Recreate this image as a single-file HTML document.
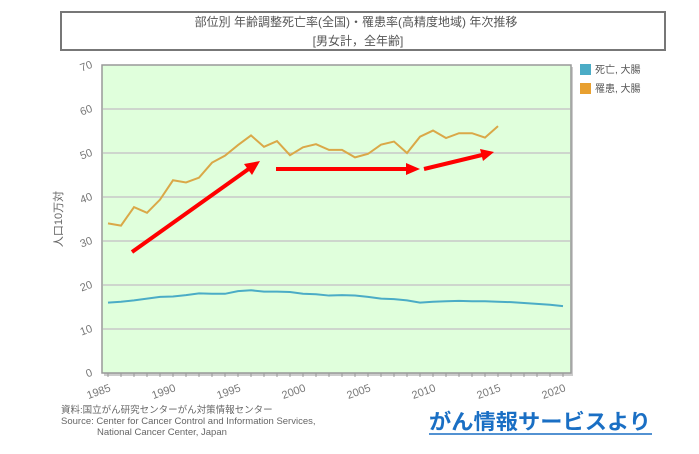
<!DOCTYPE html>
<html><head><meta charset="utf-8"><style>
body{margin:0;background:#fff;width:699px;height:449px;overflow:hidden;font-family:"Liberation Sans","Noto Sans CJK JP",sans-serif;}
</style></head><body>
<svg width="699" height="449" xmlns="http://www.w3.org/2000/svg" id="chart">
<rect x="61" y="12" width="604" height="38" fill="#fff" stroke="#777" stroke-width="2"/>
<text x="356" y="26" font-size="12" fill="#555" text-anchor="middle" font-family="Liberation Sans, Noto Sans CJK JP, sans-serif">部位別 年齢調整死亡率(全国)・罹患率(高精度地域) 年次推移</text>
<text x="358" y="45" font-size="12" fill="#555" text-anchor="middle" font-family="Liberation Sans, Noto Sans CJK JP, sans-serif">[男女計，全年齢]</text>
<rect x="104" y="67" width="469" height="309" fill="#ccc"/>
<rect x="102" y="65" width="469" height="308" fill="#e0ffdc" stroke="#999" stroke-width="1.5"/>
<g id="grid"></g><g id="axes"></g><g id="series"></g>
<text transform="translate(62,219) rotate(-90)" font-size="11" fill="#666" text-anchor="middle" font-family="Liberation Sans, Noto Sans CJK JP, sans-serif">人口10万対</text>
<rect x="580" y="64" width="11" height="11" fill="#4bacc6"/>
<text x="595" y="73" font-size="10" fill="#555" font-family="Liberation Sans, Noto Sans CJK JP, sans-serif">死亡, 大腸</text>
<rect x="580" y="83" width="11" height="11" fill="#e8a030"/>
<text x="595" y="92" font-size="10" fill="#555" font-family="Liberation Sans, Noto Sans CJK JP, sans-serif">罹患, 大腸</text>
<g stroke="#f00" stroke-width="4" fill="#f00">
<line x1="132" y1="252" x2="250" y2="168"/><polygon points="260,161 244,164 252,175" stroke="none"/>
<line x1="276" y1="169" x2="408" y2="169"/><polygon points="420,169 406,163 406,175" stroke="none"/>
<line x1="424" y1="169" x2="482" y2="155"/><polygon points="494,152 480,149 483,161" stroke="none"/>
</g>
<text x="61" y="413" font-size="9.5" fill="#666" font-family="Liberation Sans, Noto Sans CJK JP, sans-serif">資料:国立がん研究センターがん対策情報センター</text>
<text x="61" y="424" font-size="9.5" fill="#666">Source: Center for Cancer Control and Information Services,</text>
<text x="97" y="435" font-size="9.5" fill="#666">National Cancer Center, Japan</text>
<text x="429" y="429" font-size="21" font-weight="bold" fill="#1a6fc4" textLength="222" lengthAdjust="spacingAndGlyphs" font-family="Liberation Sans, Noto Sans CJK JP, sans-serif">がん情報サービスより</text>
<line x1="429" y1="434" x2="652" y2="434" stroke="#1a6fc4" stroke-width="1.5"/>
</svg>
<script>
const years=[1985,1986,1987,1988,1989,1990,1991,1992,1993,1994,1995,1996,1997,1998,1999,2000,2001,2002,2003,2004,2005,2006,2007,2008,2009,2010,2011,2012,2013,2014,2015,2016,2017,2018,2019,2020];
const incidence=[34.0,33.5,37.7,36.4,39.4,43.8,43.3,44.4,47.8,49.4,51.8,54.0,51.4,52.7,49.5,51.3,52.0,50.7,50.7,49.0,49.8,51.9,52.6,50.0,53.7,55.1,53.4,54.5,54.5,53.5,56.1];
const mortality=[16.0,16.2,16.5,16.9,17.3,17.4,17.7,18.1,18.0,18.0,18.6,18.8,18.5,18.5,18.4,18.0,17.9,17.6,17.7,17.6,17.3,16.9,16.8,16.5,16.0,16.2,16.3,16.4,16.3,16.3,16.2,16.1,15.9,15.7,15.5,15.2];
const yTicks=[0,10,20,30,40,50,60,70];
const xTicks=[1985,1990,1995,2000,2005,2010,2015,2020];
const NS='http://www.w3.org/2000/svg';
const xs=y=>108+(y-1985)*(563-108)/35;
const ys=v=>373-v*308/70;
function mk(tag,attrs,parent){const e=document.createElementNS(NS,tag);for(const k in attrs)e.setAttribute(k,attrs[k]);parent.appendChild(e);return e;}
const grid=document.getElementById('grid'),axes=document.getElementById('axes'),ser=document.getElementById('series');
yTicks.forEach(v=>{
 if(v>0&&v<70){const g=mk('line',{x1:103,x2:570,y1:ys(v),y2:ys(v),stroke:'#c8c8c8','stroke-width':1.5},grid);
 
 }
 const t=mk('text',{x:92,y:ys(v)+4,'font-size':11,fill:'#777','text-anchor':'end',transform:'rotate(-20 88 '+ys(v)+')'},axes);
 t.textContent=v;
 
 
});
for(let y=1985;y<=2020;y++){const l=mk('line',{x1:xs(y),x2:xs(y),y1:373,y2:377,stroke:'#999'},axes);
 
 }
xTicks.forEach(y=>{const x=xs(y)+2;
 const t=mk('text',{x:x,y:391,'font-size':11,fill:'#777','text-anchor':'end',transform:'rotate(-20 '+x+' 387)'},axes);
 t.textContent=y;
 
 
});
function line(data,color,name){
 const p=mk('polyline',{points:data.map((v,i)=>xs(years[i])+','+ys(v)).join(' '),fill:'none',stroke:color,'stroke-width':2},ser);
 
 
}
line(mortality,'#4bacc6','mortality-line');
line(incidence,'#daa848','incidence-line');
</script>
</body></html>
